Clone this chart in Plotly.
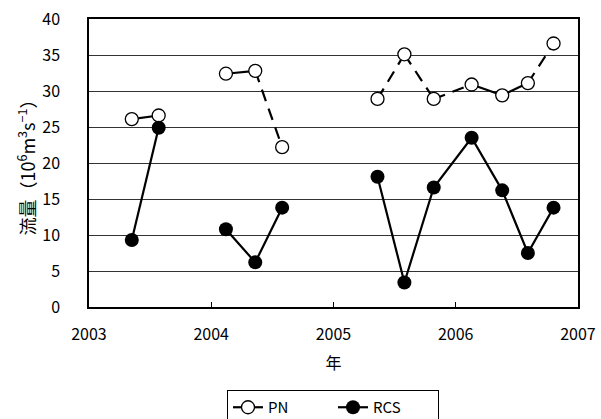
import plotly.graph_objects as go

# Data (decimal year)
years = [2003.35, 2003.57, 2004.12, 2004.36, 2004.58, 2005.36, 2005.58, 2005.82, 2006.13, 2006.38, 2006.59, 2006.80]
pn = [26.1, 26.6, 32.4, 32.8, 22.2, 28.9, 35.1, 28.9, 30.9, 29.4, 31.1, 36.6]
rcs = [9.3, 24.9, 10.8, 6.2, 13.8, 18.1, 3.4, 16.6, 23.5, 16.2, 7.5, 13.8]
# style of each connecting segment (between point i and i+1)
pn_seg = ["solid", None, "solid", "dash", None, "dash", "dash", "dash", "solid", "solid", "dash"]
rcs_seg = ["solid", None, "solid", "solid", None, "solid", "solid", "solid", "solid", "solid", "solid"]
xticks = [2003, 2004, 2005, 2006, 2007]
yticks = [0, 5, 10, 15, 20, 25, 30, 35, 40]


def build(xs, ys, segs, style):
    ox, oy = [], []
    for i in range(len(xs)):
        ox.append(xs[i]); oy.append(ys[i])
        if i < len(segs) and segs[i] != style:
            ox.append(None); oy.append(None)
    return ox, oy


def build_only(xs, ys, segs, style):
    ox, oy = [], []
    for i, s in enumerate(segs):
        if s == style:
            ox += [xs[i], xs[i + 1], None]
            oy += [ys[i], ys[i + 1], None]
    return ox, oy

FONT = "Noto Sans CJK JP, Noto Sans, sans-serif"
fig = go.Figure()

dx, dy = build_only(years, pn, pn_seg, "dash")
fig.add_trace(go.Scatter(x=dx, y=dy, mode="lines", showlegend=False,
                         line=dict(color="black", width=2.2, dash="12px,8px"), hoverinfo="skip"))
sx, sy = build(years, pn, pn_seg, "solid")
fig.add_trace(go.Scatter(x=sx, y=sy, mode="lines+markers", name="PN", connectgaps=False,
                         line=dict(color="black", width=2.2),
                         marker=dict(symbol="circle", size=13, color="white",
                                     line=dict(color="black", width=1.3))))
rx, ry = build(years, rcs, rcs_seg, "solid")
fig.add_trace(go.Scatter(x=rx, y=ry, mode="lines+markers", name="RCS", connectgaps=False,
                         line=dict(color="black", width=2.2),
                         marker=dict(symbol="circle", size=14, color="black")))

fig.update_layout(
    width=601, height=419,
    margin=dict(l=89, r=23, t=19, b=112, autoexpand=False),
    paper_bgcolor="white", plot_bgcolor="white",
    font=dict(family=FONT, size=16, color="black"),
    showlegend=True,
    legend=dict(orientation="h", xref="paper", x=(227 - 89) / 489, xanchor="left",
                yref="container", y=1 - 390 / 419, yanchor="top",
                bordercolor="black", borderwidth=1, font=dict(size=15, family=FONT),
                entrywidth=60, entrywidthmode="pixels", tracegroupgap=0),
    xaxis=dict(range=[2003, 2007], tickvals=xticks, ticktext=[str(t) for t in xticks],
               ticks="inside", ticklen=5, tickcolor="black", showgrid=False,
               showline=True, linecolor="black", linewidth=1.5, mirror=True,
               zeroline=False, ticklabelstandoff=12,
               tickfont=dict(size=16),
               title=dict(text="年", font=dict(size=16), standoff=14)),
    yaxis=dict(range=[0, 40], tickvals=yticks, ticks="", showgrid=True,
               gridcolor="#333333", gridwidth=1,
               showline=True, linecolor="black", linewidth=1.5, mirror=True,
               zeroline=False, ticklabelstandoff=24, tickfont=dict(size=16),
               title=dict(text="流量（10<sup>6</sup>m<sup>3</sup>s<sup>−1</sup>）",
                          font=dict(size=18), standoff=2)),
)

fig.write_html("out.html")
